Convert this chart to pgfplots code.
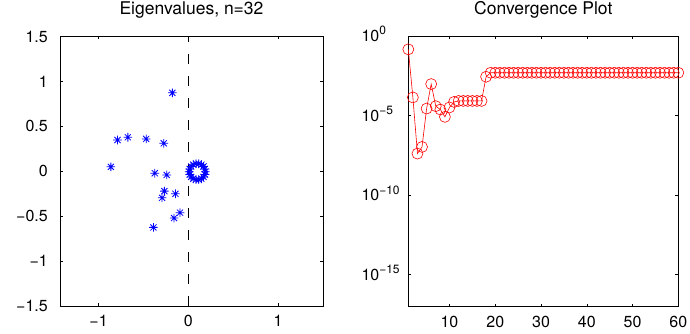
\documentclass[border=0pt]{standalone}
\usepackage{fontspec}
\setmainfont{TeX Gyre Heros}
\usepackage{pgfplots}
\pgfplotsset{compat=1.18}
\pgfdeclareplotmark{mstar}{%
  \pgfpathmoveto{\pgfpoint{-\pgfplotmarksize}{0pt}}%
  \pgfpathlineto{\pgfpoint{\pgfplotmarksize}{0pt}}%
  \pgfpathmoveto{\pgfpoint{0pt}{-\pgfplotmarksize}}%
  \pgfpathlineto{\pgfpoint{0pt}{\pgfplotmarksize}}%
  \pgfpathmoveto{\pgfpoint{-0.7071\pgfplotmarksize}{-0.7071\pgfplotmarksize}}%
  \pgfpathlineto{\pgfpoint{0.7071\pgfplotmarksize}{0.7071\pgfplotmarksize}}%
  \pgfpathmoveto{\pgfpoint{-0.7071\pgfplotmarksize}{0.7071\pgfplotmarksize}}%
  \pgfpathlineto{\pgfpoint{0.7071\pgfplotmarksize}{-0.7071\pgfplotmarksize}}%
  \pgfusepathqstroke}
\newcommand\sexp[1]{\raisebox{6.5pt}{\fontsize{12}{13}\selectfont #1}}
\pgfplotstableread{
x y
-0.178 0.873
-0.789 0.348
-0.674 0.378
-0.470 0.360
-0.274 0.311
-0.863 0.049
-0.374 -0.022
-0.241 -0.041
-0.267 -0.221
-0.293 -0.296
-0.144 -0.251
-0.093 -0.461
-0.159 -0.521
-0.389 -0.625
0.190 -0.005
0.185 0.026
0.169 0.053
0.145 0.073
0.116 0.084
0.084 0.084
0.055 0.073
0.031 0.053
0.015 0.026
0.010 -0.005
0.015 -0.036
0.031 -0.063
0.055 -0.083
0.084 -0.094
0.116 -0.094
0.145 -0.083
0.169 -0.063
0.185 -0.036
}\eigs
\pgfplotstableread{
k r
1 1.45e-1
2 1.38e-4
3 4.07e-8
4 1.07e-7
5 2.75e-5
6 9.55e-4
7 3.89e-5
8 2.40e-5
9 8.3e-6
10 3.24e-5
11 7.2e-5
12 8.3e-5
13 8.3e-5
14 8.3e-5
15 8.3e-5
16 8.3e-5
17 8.3e-5
18 2.75e-3
19 4.9e-3
20 4.9e-3
21 4.9e-3
22 4.9e-3
23 4.9e-3
24 4.9e-3
25 4.9e-3
26 4.9e-3
27 4.9e-3
28 4.9e-3
29 4.9e-3
30 4.9e-3
31 4.9e-3
32 4.9e-3
33 4.9e-3
34 4.9e-3
35 4.9e-3
36 4.9e-3
37 4.9e-3
38 4.9e-3
39 4.9e-3
40 4.9e-3
41 4.9e-3
42 4.9e-3
43 4.9e-3
44 4.9e-3
45 4.9e-3
46 4.9e-3
47 4.9e-3
48 4.9e-3
49 4.9e-3
50 4.9e-3
51 4.9e-3
52 4.9e-3
53 4.9e-3
54 4.9e-3
55 4.9e-3
56 4.9e-3
57 4.9e-3
58 4.9e-3
59 4.9e-3
60 4.9e-3
}\conv
\pgfplotsset{
  mlab/.style={
    scale only axis,
    anchor=south west,
    tick align=inside,
    major tick length=3pt,
    tick style={black, line width=0.5pt},
    axis line style={black, line width=0.7pt},
    ticklabel style={font=\fontsize{16}{19}\selectfont},
    xticklabel style={anchor=base, yshift=-20.5pt, inner sep=0pt},
    title style={at={(0.5,1)}, anchor=base, yshift=15.5pt, inner sep=0pt, font=\fontsize{17.5}{20}\selectfont},
  }
}
\begin{document}
\begin{tikzpicture}
\useasboundingbox (0,0) rectangle (690pt,334pt);
\begin{axis}[mlab,
  at={(60pt,28pt)}, width=263pt, height=269.5pt,
  xmin=-1.43, xmax=1.5, ymin=-1.5, ymax=1.5,
  xtick={-1,0,1}, xticklabels={−1,0,1},
  ytick={-1.5,-1,-0.5,0,0.5,1,1.5},
  yticklabels={−1.5,−1,−0.5,0,0.5,1,1.5},
  yticklabel style={anchor=east, xshift=-12pt, inner sep=0pt},
  title={Eigenvalues, n=32},
]
\addplot[black, line width=0.6pt, dash pattern=on 10pt off 12pt, forget plot] coordinates {(0,-1.5) (0,1.5)};
\addplot[only marks, blue, mark=mstar, mark size=4.3pt, mark options={line width=0.8pt}] table[x=x, y=y] {\eigs};
\end{axis}
\begin{axis}[mlab,
  at={(408.3pt,27.5pt)}, width=270pt, height=270.5pt,
  xmin=1, xmax=60, ymode=log, ymin=1e-17, ymax=1,
  clip=false,
  xtick={10,20,30,40,50,60}, xticklabels={10,20,30,40,50,60},
  ytick={1e-15,1e-10,1e-5,1},
  minor ytick={},
  yticklabels={10\sexp{−15},10\sexp{−10},10\sexp{−5},10\sexp{0}},
  yticklabel style={anchor=base west, xshift=-47pt, yshift=-5.5pt, inner sep=0pt},
  title={Convergence Plot},
]
\addplot[red, line width=0.6pt, mark=o, mark size=5.5pt, mark options={solid, line width=0.6pt}] table[x=k, y=r] {\conv};
\end{axis}
\end{tikzpicture}
\end{document}
